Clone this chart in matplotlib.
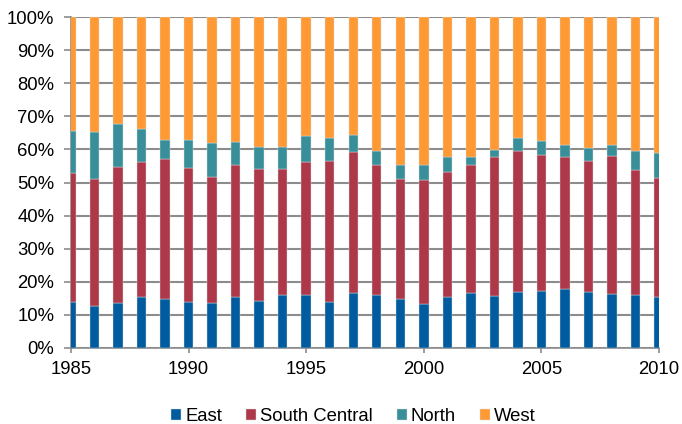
import numpy as np
import matplotlib
matplotlib.use("Agg")
import matplotlib.pyplot as plt
from matplotlib.ticker import FuncFormatter

# --- dados (participação % por região) ---
years = list(range(1985, 2011))
east = [13.9, 12.8, 13.6, 15.3, 14.8, 13.9, 13.7, 15.3, 14.3, 15.9, 15.9, 14.0, 16.5,
        16.0, 14.8, 13.4, 15.3, 16.5, 15.6, 16.8, 17.1, 17.9, 16.8, 16.2, 15.9, 15.5]
south_central = [39.1, 38.4, 41.1, 40.8, 42.3, 40.6, 38.1, 40.0, 39.8, 38.2, 40.2, 42.4, 42.7,
                 39.4, 36.2, 37.4, 37.9, 38.9, 42.0, 42.8, 41.3, 39.7, 39.6, 41.7, 38.0, 36.0]
north = [12.6, 14.0, 13.1, 10.0, 5.8, 8.4, 10.1, 6.8, 6.5, 6.7, 7.8, 6.9, 5.0,
         4.2, 4.4, 4.4, 4.4, 2.2, 2.2, 3.7, 4.2, 3.6, 3.9, 3.4, 5.7, 7.5]
west = [34.4, 34.8, 32.2, 33.9, 37.1, 37.1, 38.1, 37.9, 39.4, 39.2, 36.1, 36.7, 35.8,
        40.4, 44.6, 44.8, 42.4, 42.4, 40.2, 36.7, 37.4, 38.8, 39.7, 38.7, 40.4, 41.0]

series = [("East", east, "#005C9E"),
          ("South Central", south_central, "#AD384A"),
          ("North", north, "#388F99"),
          ("West", west, "#FF9933")]

plt.rcParams.update({
    "font.family": ["Liberation Sans", "DejaVu Sans"],
    "font.size": 13.3,
})

fig = plt.figure(figsize=(6.82, 4.24), dpi=100)
ax = fig.add_axes([71 / 682, 1 - 348 / 424, (659 - 71) / 682, (348 - 17) / 424])

x = np.array(years)
bottom = np.zeros(len(years))
for name, vals, color in series:
    vals = np.array(vals)
    ax.bar(x, vals, bottom=bottom, width=0.4, color=color, label=name,
           edgecolor="#dddddd", linewidth=0.3, zorder=3)
    bottom += vals

ax.set_xlim(1985, 2010)
ax.set_ylim(0, 100)
ax.set_yticks(np.arange(0, 101, 10))
ax.yaxis.set_major_formatter(FuncFormatter(lambda v, p: f"{v:.0f}%"))
ax.set_xticks(range(1985, 2011, 5))

ax.grid(axis="y", color="#8c8c8c", linewidth=1.5, zorder=0)
for s in ["top", "right"]:
    ax.spines[s].set_visible(False)
for s in ["left", "bottom"]:
    ax.spines[s].set_color("#8c8c8c")
    ax.spines[s].set_linewidth(1.2)
ax.tick_params(axis="both", colors="#8c8c8c", labelcolor="black", width=1.2)
ax.tick_params(axis="x", length=3.6, pad=5.4)
ax.tick_params(axis="y", length=5, pad=7)

ax.legend(loc="center", bbox_to_anchor=(0.48, -0.207), ncol=4, frameon=False,
          handlelength=0.55, handleheight=0.55, handletextpad=0.2, columnspacing=1.3)

fig.savefig("out.png", dpi=100)
